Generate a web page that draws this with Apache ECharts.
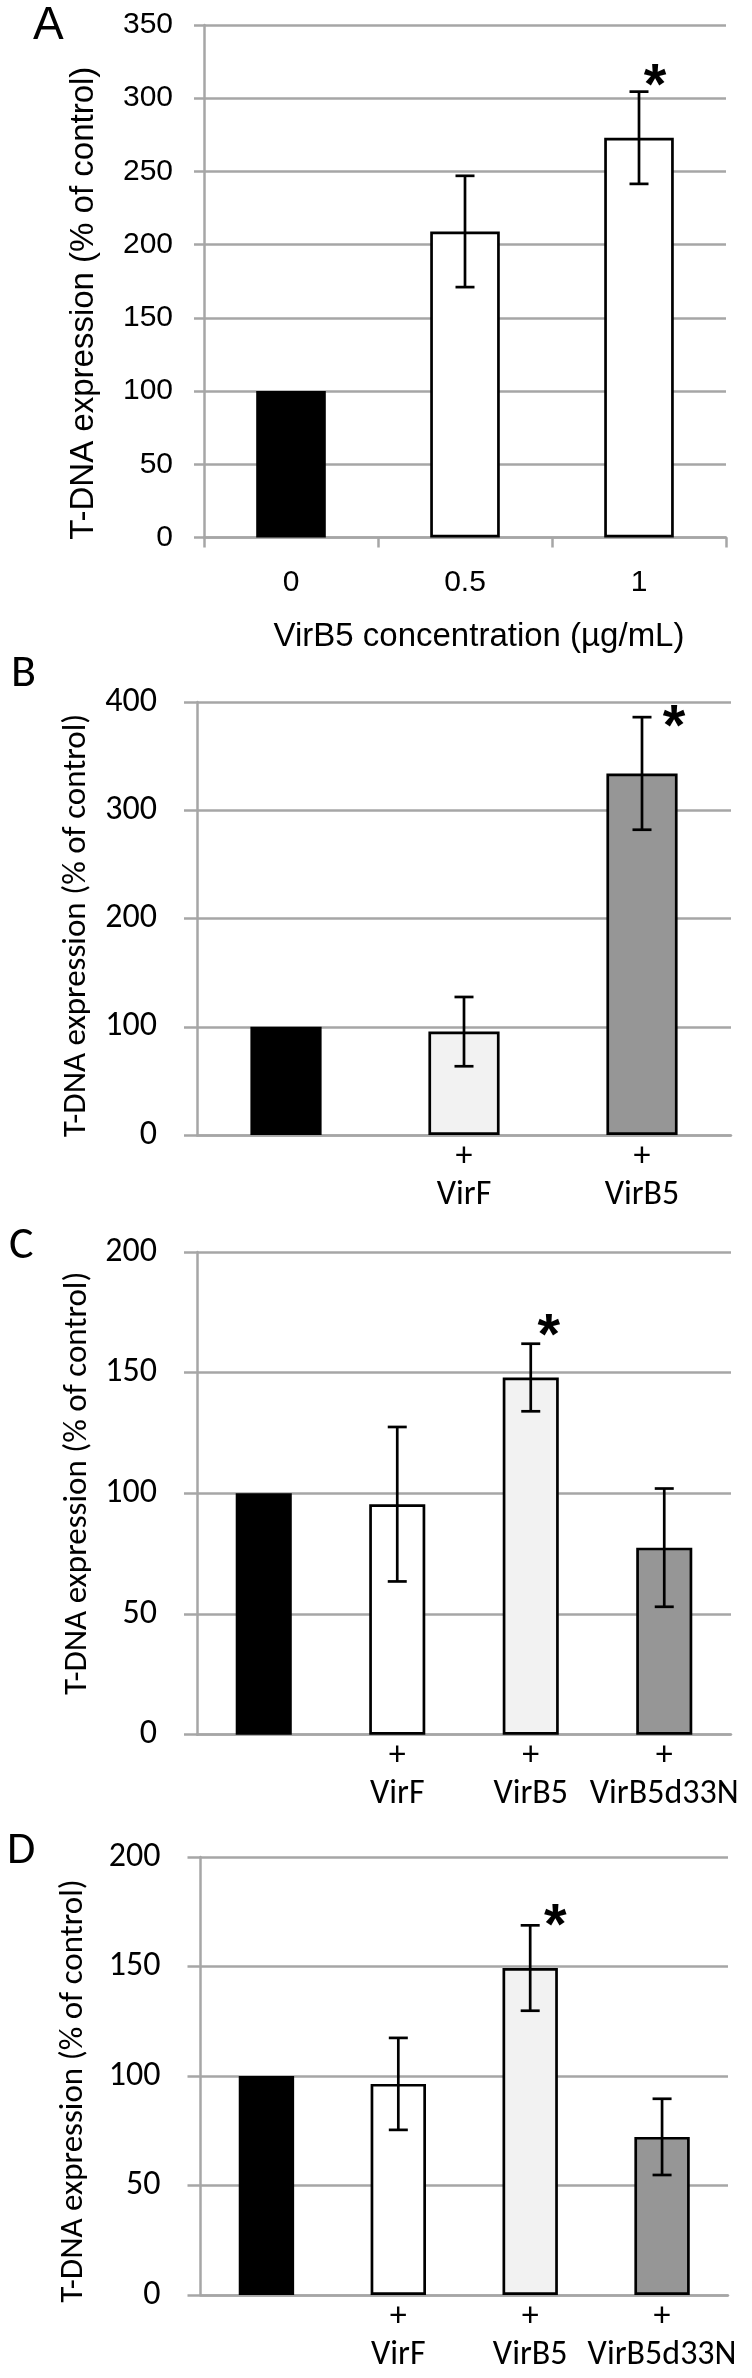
<!DOCTYPE html>
<html><head><meta charset="utf-8">
<script src="https://cdn.jsdelivr.net/npm/echarts@6/dist/echarts.min.js"></script>
<style>html,body{margin:0;padding:0;background:#fff}#c{width:752px;height:2378px}</style>
</head><body><div id="c"></div>
<script>
// ---------- DATA ----------
const catsA = ['0', '0.5', '1'];
const valsA = [100, 209, 273];
const errA  = [null, 38, 31.5];
const sigA  = [false, false, true];

const catsB = ['', '+\nVirF', '+\nVirB5'];
const valsB = [100, 95.5, 334];
const errB  = [null, 32, 52];
const sigB  = [false, false, true];

const catsC = ['', '+\nVirF', '+\nVirB5', '+\nVirB5d33N'];
const valsC = [100, 95.5, 148, 77.5];
const errC  = [null, 32, 14, 24.5];
const sigC  = [false, false, true, false];

const catsD = ['', '+\nVirF', '+\nVirB5', '+\nVirB5d33N'];
const valsD = [100, 96.4, 149.3, 72.2];
const errD  = [null, 21, 19.5, 17.4];
const sigD  = [false, false, true, false];

const yAxisA = {min: 0, max: 350, interval: 50};
const yAxisB = {min: 0, max: 400, interval: 100};
const yAxisC = {min: 0, max: 200, interval: 50};
const yAxisD = {min: 0, max: 200, interval: 50};

const yTitle = 'T-DNA expression (% of control)';
const xTitleA = 'VirB5 concentration (µg/mL)';

// ---------- STYLE ----------
const GRAY = '#a6a6a6';
const ARIAL = '"Liberation Sans", Arial, sans-serif';
const CAL = 'Carlito, Lato, sans-serif';
const colorsA = ['#000000', '#ffffff', '#ffffff'];
const colorsB = ['#000000', '#f2f2f2', '#969696'];
const colorsC = ['#000000', '#ffffff', '#f2f2f2', '#969696'];
const colorsD = ['#000000', '#ffffff', '#f2f2f2', '#969696'];

const panels = [
  {cats: catsA, vals: valsA, err: errA, sig: sigA, y: yAxisA, colors: colorsA,
   grid: {left: 204, top: 25, width: 522, height: 512.5}, font: ARIAL, tickFont: 30, nameFont: 33,
   tickLen: 10, labelMargin: 31, yNameGap: 104, yNamePad: [0, 44, 0, 0], barWidth: '40%',
   xTicks: true, xLabelMargin: 26, xName: xTitleA, star: [16, -16]},
  {cats: catsB, vals: valsB, err: errB, sig: sigB, y: yAxisB, colors: colorsB,
   grid: {left: 197, top: 702, width: 534, height: 433}, font: CAL, tickFont: 34, nameFont: 33,
   tickLen: 13, labelMargin: 40, yNameGap: 104, yNamePad: [0, 14, 0, 0], barWidth: '40%',
   xTicks: false, xLabelMargin: 3, star: [32, 0]},
  {cats: catsC, vals: valsC, err: errC, sig: sigC, y: yAxisC, colors: colorsC,
   grid: {left: 197, top: 1252, width: 534, height: 482.7}, font: CAL, tickFont: 34, nameFont: 33,
   tickLen: 13, labelMargin: 40, yNameGap: 103, yNamePad: [0, 0, 0, 20], barWidth: '42%',
   xTicks: false, xLabelMargin: 3, star: [18, -18]},
  {cats: catsD, vals: valsD, err: errD, sig: sigD, y: yAxisD, colors: colorsD,
   grid: {left: 200.5, top: 1857, width: 527.5, height: 438}, font: CAL, tickFont: 34, nameFont: 33,
   tickLen: 13, labelMargin: 40, yNameGap: 110, yNamePad: [0, 30, 0, 0], barWidth: '42%',
   xTicks: false, xLabelMargin: 3, star: [25, -9]}
];

const letters = [
  {t: 'A', x: 33, y: 45, font: ARIAL},
  {t: 'B', x: 11, y: 693, font: CAL},
  {t: 'C', x: 9, y: 1265, font: CAL},
  {t: 'D', x: 7, y: 1870, font: CAL}
];

const grids = [], xAxes = [], yAxes = [], series = [];
panels.forEach((p, k) => {
  grids.push(Object.assign({containLabel: false}, p.grid));
  xAxes.push({
    type: 'category', gridIndex: k, data: p.cats,
    axisLine: {show: true, lineStyle: {color: GRAY, width: 2.5}},
    axisTick: {show: p.xTicks, length: 10, lineStyle: {color: GRAY, width: 2.5}},
    axisLabel: {color: '#000', fontFamily: p.font, fontSize: p.tickFont, margin: p.xLabelMargin,
                lineHeight: 38, interval: 0},
    name: p.xName || '', nameLocation: 'middle', nameGap: 83,
    nameTextStyle: {color: '#000', fontFamily: p.font, fontSize: 33, padding: [0, 0, 0, 28]}
  });
  yAxes.push({
    type: 'value', gridIndex: k, min: p.y.min, max: p.y.max, interval: p.y.interval,
    axisLine: {show: true, lineStyle: {color: GRAY, width: 2.5}},
    axisTick: {show: true, length: p.tickLen, lineStyle: {color: GRAY, width: 2.5}},
    splitLine: {show: true, lineStyle: {color: GRAY, width: 2.5}},
    axisLabel: {color: '#000', fontFamily: p.font, fontSize: p.tickFont, margin: p.labelMargin},
    name: yTitle, nameLocation: 'middle', nameRotate: 90, nameGap: p.yNameGap,
    nameTextStyle: {color: '#000', fontFamily: p.font, fontSize: p.nameFont, padding: p.yNamePad}
  });
  series.push({
    type: 'bar', xAxisIndex: k, yAxisIndex: k, barWidth: p.barWidth, z: 3,
    data: p.vals.map((v, i) => ({value: v, itemStyle: {color: p.colors[i], borderColor: '#000', borderWidth: 2.7}})),
    silent: true, animation: false
  });
  const eb = [];
  p.vals.forEach((v, i) => { if (p.err[i] != null) eb.push([i, v, p.err[i]]); });
  series.push({
    type: 'custom', xAxisIndex: k, yAxisIndex: k, z: 5, data: eb, animation: false, silent: true,
    renderItem: (params, api) => {
      const i = api.value(0), v = api.value(1), e = api.value(2);
      const t = api.coord([i, v + e]), b = api.coord([i, v - e]);
      const x = t[0], w = 9.5, st = {stroke: '#000', lineWidth: 2.7};
      return {type: 'group', children: [
        {type: 'line', shape: {x1: x, y1: t[1], x2: x, y2: b[1]}, style: st},
        {type: 'line', shape: {x1: x - w, y1: t[1], x2: x + w, y2: t[1]}, style: st},
        {type: 'line', shape: {x1: x - w, y1: b[1], x2: x + w, y2: b[1]}, style: st}
      ]};
    }
  });
  const stars = [];
  p.vals.forEach((v, i) => { if (p.sig[i]) stars.push([i, v + (p.err[i] || 0)]); });
  series.push({
    type: 'custom', xAxisIndex: k, yAxisIndex: k, z: 6, data: stars, animation: false, silent: true,
    renderItem: (params, api) => {
      const c = api.coord([api.value(0), api.value(1)]);
      return {type: 'text', x: c[0] + p.star[0], y: c[1] + p.star[1] + 12,
        style: {text: '*', fill: '#000', font: 'bold 58px ' + ARIAL, align: 'center', verticalAlign: 'middle'}};
    }
  });
});

const chart = echarts.init(document.getElementById('c'), null, {renderer: 'canvas'});
chart.setOption({
  animation: false,
  backgroundColor: '#ffffff',
  grid: grids, xAxis: xAxes, yAxis: yAxes, series: series,
  graphic: letters.map(l => ({type: 'text', left: l.x, top: l.y - 42,
    style: {text: l.t, fill: '#000', font: '46px ' + l.font}}))
});
</script></body></html>
